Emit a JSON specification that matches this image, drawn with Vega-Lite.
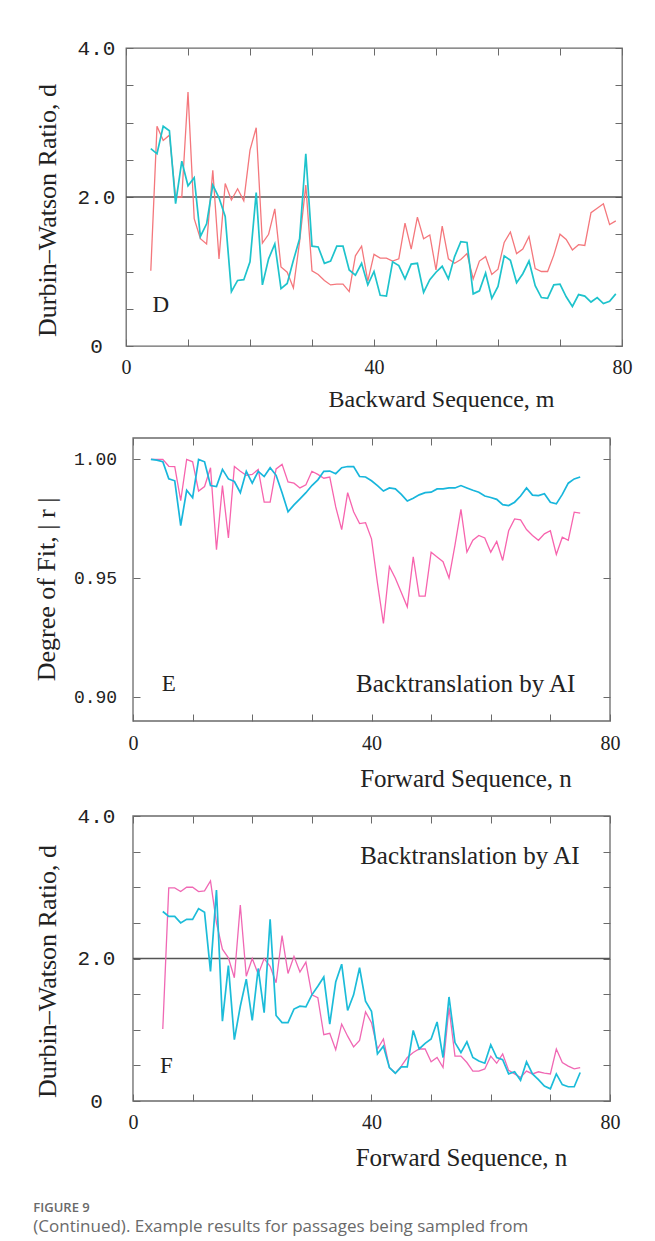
{
  "$schema": "https://vega.github.io/schema/vega-lite/v6.json",
  "padding": {"left": 33, "top": 36, "right": 5, "bottom": 5},
  "background": "white",
  "config": {
    "view": {"stroke": "#6a6a6a", "strokeWidth": 1.3},
    "axis": {
      "domain": false, "grid": false, "tickColor": "#6a6a6a", "tickWidth": 1,
      "labelFont": "Liberation Serif", "labelFontSize": 20, "labelColor": "#222",
      "titleFont": "Liberation Serif", "titleFontSize": 24, "titleFontWeight": "normal", "titleColor": "#222"
    },
    "axisY": {"labelFont": "Liberation Mono", "labelFontSize": 21, "titleFontSize": 26}
  },
  "title": {
    "text": "FIGURE 9",
    "subtitle": "(Continued). Example results for passages being sampled from",
    "orient": "bottom", "anchor": "start", "frame": "bounds",
    "font": "Open Sans", "fontSize": 13, "fontWeight": 600, "color": "#6a6a6a",
    "subtitleFont": "Open Sans", "subtitleFontSize": 17, "subtitleColor": "#6a6a6a", "subtitleFontWeight": "normal",
    "subtitlePadding": 4, "offset": 32
  },
  "datasets": {
    "D": [
      {"m":4,"s1":1.01,"s2":2.65},{"m":5,"s1":2.95,"s2":2.58},{"m":6,"s1":2.76,"s2":2.95},{"m":7,"s1":2.83,"s2":2.89},
      {"m":8,"s1":2.0,"s2":1.91},{"m":9,"s1":2.0,"s2":2.48},{"m":10,"s1":3.41,"s2":2.15},{"m":11,"s1":1.71,"s2":2.26},
      {"m":12,"s1":1.44,"s2":1.47},{"m":13,"s1":1.37,"s2":1.64},{"m":14,"s1":2.36,"s2":2.16},{"m":15,"s1":1.17,"s2":1.99},
      {"m":16,"s1":2.18,"s2":1.74},{"m":17,"s1":1.96,"s2":0.73},{"m":18,"s1":2.11,"s2":0.88},{"m":19,"s1":1.95,"s2":0.89},
      {"m":20,"s1":2.63,"s2":1.13},{"m":21,"s1":2.93,"s2":2.06},{"m":22,"s1":1.38,"s2":0.82},{"m":23,"s1":1.5,"s2":1.17},
      {"m":24,"s1":1.84,"s2":1.37},{"m":25,"s1":1.06,"s2":0.77},{"m":26,"s1":0.99,"s2":0.84},{"m":27,"s1":0.78,"s2":1.15},
      {"m":28,"s1":1.4,"s2":1.44},{"m":29,"s1":2.16,"s2":2.58},{"m":30,"s1":1.01,"s2":1.34},{"m":31,"s1":0.96,"s2":1.33},
      {"m":32,"s1":0.88,"s2":1.11},{"m":33,"s1":0.82,"s2":1.14},{"m":34,"s1":0.83,"s2":1.34},{"m":35,"s1":0.83,"s2":1.34},
      {"m":36,"s1":0.73,"s2":1.02},{"m":37,"s1":1.21,"s2":0.95},{"m":38,"s1":1.34,"s2":1.11},{"m":39,"s1":0.87,"s2":0.82},
      {"m":40,"s1":1.23,"s2":1.0},{"m":41,"s1":1.18,"s2":0.68},{"m":42,"s1":1.18,"s2":0.67},{"m":43,"s1":1.14,"s2":1.13},
      {"m":44,"s1":1.17,"s2":1.08},{"m":45,"s1":1.65,"s2":0.9},{"m":46,"s1":1.3,"s2":1.1},{"m":47,"s1":1.73,"s2":1.11},
      {"m":48,"s1":1.44,"s2":0.72},{"m":49,"s1":1.49,"s2":0.89},{"m":50,"s1":1.02,"s2":0.99},{"m":51,"s1":1.61,"s2":1.07},
      {"m":52,"s1":1.17,"s2":0.9},{"m":53,"s1":1.11,"s2":1.2},{"m":54,"s1":1.16,"s2":1.4},{"m":55,"s1":1.24,"s2":1.39},
      {"m":56,"s1":0.9,"s2":0.7},{"m":57,"s1":1.14,"s2":0.74},{"m":58,"s1":1.2,"s2":0.98},{"m":59,"s1":0.96,"s2":0.64},
      {"m":60,"s1":1.03,"s2":0.8},{"m":61,"s1":1.39,"s2":1.21},{"m":62,"s1":1.53,"s2":1.15},{"m":63,"s1":1.24,"s2":0.85},
      {"m":64,"s1":1.3,"s2":0.97},{"m":65,"s1":1.47,"s2":1.14},{"m":66,"s1":1.04,"s2":0.81},{"m":67,"s1":1.0,"s2":0.65},
      {"m":68,"s1":1.0,"s2":0.64},{"m":69,"s1":1.22,"s2":0.82},{"m":70,"s1":1.5,"s2":0.83},{"m":71,"s1":1.43,"s2":0.66},
      {"m":72,"s1":1.29,"s2":0.53},{"m":73,"s1":1.36,"s2":0.69},{"m":74,"s1":1.35,"s2":0.67},{"m":75,"s1":1.79,"s2":0.59},
      {"m":76,"s1":1.85,"s2":0.65},{"m":77,"s1":1.91,"s2":0.57},{"m":78,"s1":1.63,"s2":0.6},{"m":79,"s1":1.68,"s2":0.7}
    ],
    "E": [
      {"n":3,"s1":1.0,"s2":1.0},{"n":4,"s1":1.0,"s2":0.9997},{"n":5,"s1":1.0,"s2":0.999},{"n":6,"s1":0.9971,"s2":0.9918},
      {"n":7,"s1":0.997,"s2":0.991},{"n":8,"s1":0.9827,"s2":0.9722},{"n":9,"s1":1.0,"s2":0.987},{"n":10,"s1":0.999,"s2":0.9839},
      {"n":11,"s1":0.9867,"s2":1.0},{"n":12,"s1":0.9886,"s2":0.999},{"n":13,"s1":0.9965,"s2":0.989},{"n":14,"s1":0.962,"s2":0.9886},
      {"n":15,"s1":0.989,"s2":0.9958},{"n":16,"s1":0.967,"s2":0.9918},{"n":17,"s1":0.997,"s2":0.9907},{"n":18,"s1":0.995,"s2":0.986},
      {"n":19,"s1":0.9933,"s2":0.995},{"n":20,"s1":0.9937,"s2":0.99},{"n":21,"s1":0.9958,"s2":0.995},{"n":22,"s1":0.982,"s2":0.9928},
      {"n":23,"s1":0.982,"s2":0.9965},{"n":24,"s1":0.996,"s2":0.9933},{"n":25,"s1":0.9979,"s2":0.986},{"n":26,"s1":0.9905,"s2":0.978},
      {"n":27,"s1":0.99,"s2":0.9809},{"n":28,"s1":0.988,"s2":0.9834},{"n":29,"s1":0.9893,"s2":0.986},{"n":30,"s1":0.995,"s2":0.989},
      {"n":31,"s1":0.9937,"s2":0.9914},{"n":32,"s1":0.9921,"s2":0.995},{"n":33,"s1":0.9926,"s2":0.9951},{"n":34,"s1":0.98,"s2":0.994},
      {"n":35,"s1":0.9705,"s2":0.9965},{"n":36,"s1":0.986,"s2":0.997},{"n":37,"s1":0.978,"s2":0.997},{"n":38,"s1":0.973,"s2":0.9928},
      {"n":39,"s1":0.9734,"s2":0.9926},{"n":40,"s1":0.9666,"s2":0.991},{"n":41,"s1":0.948,"s2":0.989},{"n":42,"s1":0.931,"s2":0.9867},
      {"n":43,"s1":0.955,"s2":0.988},{"n":44,"s1":0.95,"s2":0.9876},{"n":45,"s1":0.944,"s2":0.9853},{"n":46,"s1":0.938,"s2":0.9825},
      {"n":47,"s1":0.959,"s2":0.9837},{"n":48,"s1":0.9425,"s2":0.9851},{"n":49,"s1":0.9425,"s2":0.986},{"n":50,"s1":0.961,"s2":0.9862},
      {"n":51,"s1":0.959,"s2":0.9876},{"n":52,"s1":0.957,"s2":0.9876},{"n":53,"s1":0.9501,"s2":0.988},{"n":54,"s1":0.964,"s2":0.988},
      {"n":55,"s1":0.979,"s2":0.989},{"n":56,"s1":0.961,"s2":0.988},{"n":57,"s1":0.966,"s2":0.987},{"n":58,"s1":0.968,"s2":0.9862},
      {"n":59,"s1":0.967,"s2":0.9846},{"n":60,"s1":0.961,"s2":0.984},{"n":61,"s1":0.9655,"s2":0.9832},{"n":62,"s1":0.9575,"s2":0.981},
      {"n":63,"s1":0.97,"s2":0.9806},{"n":64,"s1":0.975,"s2":0.982},{"n":65,"s1":0.9746,"s2":0.9846},{"n":66,"s1":0.9705,"s2":0.988},
      {"n":67,"s1":0.968,"s2":0.985},{"n":68,"s1":0.966,"s2":0.9848},{"n":69,"s1":0.9687,"s2":0.9856},{"n":70,"s1":0.97,"s2":0.982},
      {"n":71,"s1":0.96,"s2":0.9813},{"n":72,"s1":0.9673,"s2":0.9853},{"n":73,"s1":0.966,"s2":0.99},{"n":74,"s1":0.9778,"s2":0.9918},
      {"n":75,"s1":0.9774,"s2":0.9926}
    ],
    "F": [
      {"n":5,"s1":1.01,"s2":2.66},{"n":6,"s1":2.99,"s2":2.59},{"n":7,"s1":2.99,"s2":2.59},{"n":8,"s1":2.94,"s2":2.5},
      {"n":9,"s1":3.0,"s2":2.55},{"n":10,"s1":3.0,"s2":2.55},{"n":11,"s1":2.94,"s2":2.7},{"n":12,"s1":2.95,"s2":2.65},
      {"n":13,"s1":3.09,"s2":1.82},{"n":14,"s1":2.5,"s2":2.96},{"n":15,"s1":2.13,"s2":1.12},{"n":16,"s1":2.01,"s2":1.9},
      {"n":17,"s1":1.73,"s2":0.86},{"n":18,"s1":2.75,"s2":1.33},{"n":19,"s1":1.75,"s2":1.71},{"n":20,"s1":2.0,"s2":1.13},
      {"n":21,"s1":1.78,"s2":1.86},{"n":22,"s1":2.0,"s2":1.24},{"n":23,"s1":1.89,"s2":2.55},{"n":24,"s1":1.66,"s2":1.2},
      {"n":25,"s1":2.32,"s2":1.1},{"n":26,"s1":1.79,"s2":1.1},{"n":27,"s1":2.03,"s2":1.29},{"n":28,"s1":1.81,"s2":1.33},
      {"n":29,"s1":1.95,"s2":1.32},{"n":30,"s1":1.49,"s2":1.49},{"n":31,"s1":1.45,"s2":1.61},{"n":32,"s1":0.93,"s2":1.74},
      {"n":33,"s1":0.95,"s2":1.08},{"n":34,"s1":0.72,"s2":1.67},{"n":35,"s1":1.08,"s2":1.92},{"n":36,"s1":0.91,"s2":1.27},
      {"n":37,"s1":0.76,"s2":1.49},{"n":38,"s1":0.85,"s2":1.87},{"n":39,"s1":1.25,"s2":1.4},{"n":40,"s1":1.1,"s2":1.26},
      {"n":41,"s1":0.73,"s2":0.66},{"n":42,"s1":0.87,"s2":0.77},{"n":43,"s1":0.47,"s2":0.47},{"n":44,"s1":0.39,"s2":0.39},
      {"n":45,"s1":0.49,"s2":0.48},{"n":46,"s1":0.61,"s2":0.48},{"n":47,"s1":0.68,"s2":0.99},{"n":48,"s1":0.73,"s2":0.73},
      {"n":49,"s1":0.73,"s2":0.81},{"n":50,"s1":0.55,"s2":0.87},{"n":51,"s1":0.61,"s2":1.11},{"n":52,"s1":0.47,"s2":0.61},
      {"n":53,"s1":1.31,"s2":1.46},{"n":54,"s1":0.63,"s2":0.82},{"n":55,"s1":0.63,"s2":0.68},{"n":56,"s1":0.54,"s2":0.83},
      {"n":57,"s1":0.42,"s2":0.61},{"n":58,"s1":0.42,"s2":0.56},{"n":59,"s1":0.45,"s2":0.53},{"n":60,"s1":0.63,"s2":0.79},
      {"n":61,"s1":0.53,"s2":0.61},{"n":62,"s1":0.66,"s2":0.58},{"n":63,"s1":0.43,"s2":0.38},{"n":64,"s1":0.38,"s2":0.41},
      {"n":65,"s1":0.33,"s2":0.29},{"n":66,"s1":0.42,"s2":0.55},{"n":67,"s1":0.38,"s2":0.38},{"n":68,"s1":0.41,"s2":0.3},
      {"n":69,"s1":0.39,"s2":0.21},{"n":70,"s1":0.38,"s2":0.17},{"n":71,"s1":0.73,"s2":0.38},{"n":72,"s1":0.54,"s2":0.23},
      {"n":73,"s1":0.49,"s2":0.2},{"n":74,"s1":0.45,"s2":0.2},{"n":75,"s1":0.47,"s2":0.4}
    ]
  },
  "resolve": {"scale": {"color": "independent", "strokeWidth": "independent"}},
  "columns": 1,
  "align": "none",
  "spacing": 14,
  "concat": [
    {
      "width": 496, "height": 298,
      "data": {"name": "D"},
      "layer": [
        {
          "data": {"values": [{}]},
          "mark": {"type": "rule", "color": "#555", "strokeWidth": 1.5},
          "encoding": {"y": {"datum": 2, "type": "quantitative", "axis": null}}
        },
        {
          "transform": [{"fold": ["s1", "s2"], "as": ["series", "d"]}],
          "mark": {"type": "line"},
          "encoding": {
            "x": {"field": "m", "type": "quantitative", "scale": {"domain": [0, 80], "nice": false, "zero": false},
              "axis": {"orient": "bottom", "values": [0,10,20,30,40,50,60,70,80], "labelExpr": "datum.value % 40 === 0 ? datum.label : ''",
                "tickSize": -7, "labelPadding": 18, "labelFlush": false,
                "title": "Backward Sequence,  m", "titleX": 315, "titleY": 53, "titleBaseline": "middle", "titleAlign": "center"}},
            "y": {"field": "d", "type": "quantitative", "scale": {"domain": [0, 4], "nice": false},
              "axis": {"orient": "left", "values": [0,0.5,1,1.5,2,2.5,3,3.5,4],
                "labelExpr": "datum.value === 0 ? '0' : (datum.value % 2 === 0 ? format(datum.value, '.1f') : '')",
                "tickSize": -7, "labelAlign": "center", "labelPadding": 37,
                "title": "Durbin–Watson Ratio,  d", "titleX": -79, "titleY": 162, "titleBaseline": "middle", "titleAlign": "center", "titleAngle": -90}},
            "color": {"field": "series", "type": "nominal", "scale": {"domain": ["s1", "s2"], "range": ["#f4777c", "#1ec3cc"]}, "legend": null},
            "strokeWidth": {"field": "series", "type": "nominal", "scale": {"domain": ["s1", "s2"], "range": [1.3, 1.7]}, "legend": null}
          }
        },
        {
          "transform": [{"fold": ["s1", "s2"], "as": ["series", "d"]}],
          "mark": {"type": "line", "strokeOpacity": 0},
          "encoding": {
            "x": {"field": "m", "type": "quantitative", "axis": {"orient": "top", "values": [0,10,20,30,40,50,60,70,80], "labels": false, "tickSize": -7, "title": null}},
            "y": {"field": "d", "type": "quantitative", "axis": {"orient": "right", "values": [0,0.5,1,1.5,2,2.5,3,3.5,4], "labels": false, "tickSize": -7, "title": null}},
            "detail": {"field": "series"}
          }
        },
        {
          "data": {"values": [{}]},
          "mark": {"type": "text", "font": "Liberation Serif", "fontSize": 23, "color": "#222", "align": "center", "baseline": "middle"},
          "encoding": {
            "x": {"datum": 5.6, "type": "quantitative", "axis": null},
            "y": {"datum": 0.55, "type": "quantitative", "axis": null},
            "text": {"value": "D"}
          }
        }
      ],
      "resolve": {"axis": {"x": "independent", "y": "independent"}}
    },
    {
      "width": 484, "height": 283,
      "view": {"stroke": null},
      "data": {"name": "E"},
      "layer": [
        {
          "data": {"values": [{}]},
          "mark": {"type": "rect", "fill": "transparent", "stroke": "#6a6a6a", "strokeWidth": 1.3},
          "encoding": {
            "x": {"datum": 0, "type": "quantitative", "axis": null},
            "x2": {"datum": 80},
            "y": {"datum": 0.89, "type": "quantitative", "axis": null},
            "y2": {"datum": 1.009}
          }
        },
        {
          "transform": [{"fold": ["s1", "s2"], "as": ["series", "r"]}],
          "mark": {"type": "line"},
          "encoding": {
            "x": {"field": "n", "type": "quantitative", "scale": {"domain": [-1.176, 80], "nice": false, "zero": false},
              "axis": {"orient": "bottom", "values": [0,10,20,30,40,50,60,70,80], "labelExpr": "datum.value % 40 === 0 ? datum.label : ''",
                "tickSize": -7, "labelPadding": 19, "labelFlush": false,
                "title": "Forward Sequence,   n", "titleFontSize": 25, "titleX": 339.5, "titleY": 57, "titleBaseline": "middle", "titleAlign": "center"}},
            "y": {"field": "r", "type": "quantitative", "scale": {"domain": [0.89, 1.009], "nice": false, "zero": false},
              "axis": {"orient": "left", "offset": -7, "values": [0.9, 0.95, 1.0], "format": ".2f", "labelFontSize": 18,
                "tickSize": -7, "labelAlign": "center", "labelPadding": 45,
                "title": "Degree of Fit, | r |", "titleX": -86.5, "titleY": 151, "titleBaseline": "middle", "titleAlign": "center", "titleAngle": -90}},
            "color": {"field": "series", "type": "nominal", "scale": {"domain": ["s1", "s2"], "range": ["#f764ae", "#18b6dc"]}, "legend": null},
            "strokeWidth": {"field": "series", "type": "nominal", "scale": {"domain": ["s1", "s2"], "range": [1.3, 1.7]}, "legend": null}
          }
        },
        {
          "transform": [{"fold": ["s1", "s2"], "as": ["series", "r"]}],
          "mark": {"type": "line", "strokeOpacity": 0},
          "encoding": {
            "x": {"field": "n", "type": "quantitative", "axis": {"orient": "top", "values": [0,10,20,30,40,50,60,70,80], "labels": false, "tickSize": -7,
              "title": "·", "titleColor": "transparent", "titleFontSize": 10, "titleY": -12, "titleBaseline": "top"}},
            "y": {"field": "r", "type": "quantitative", "axis": {"orient": "right", "values": [0.9, 0.95, 1.0], "labels": false, "tickSize": -7, "title": null}},
            "detail": {"field": "series"}
          }
        },
        {
          "data": {"values": [{}]},
          "mark": {"type": "text", "font": "Liberation Serif", "fontSize": 23, "color": "#222", "align": "center", "baseline": "middle"},
          "encoding": {
            "x": {"datum": 6.0, "type": "quantitative", "axis": null},
            "y": {"datum": 0.9057, "type": "quantitative", "axis": null},
            "text": {"value": "E"}
          }
        },
        {
          "data": {"values": [{}]},
          "mark": {"type": "text", "font": "Liberation Serif", "fontSize": 25, "color": "#222", "align": "right", "baseline": "middle"},
          "encoding": {
            "x": {"datum": 74.2, "type": "quantitative", "axis": null},
            "y": {"datum": 0.9057, "type": "quantitative", "axis": null},
            "text": {"value": "Backtranslation    by    AI"}
          }
        }
      ],
      "resolve": {"axis": {"x": "independent", "y": "independent"}}
    },
    {
      "width": 484, "height": 285,
      "view": {"stroke": null},
      "data": {"name": "F"},
      "layer": [
        {
          "data": {"values": [{}]},
          "mark": {"type": "rect", "fill": "transparent", "stroke": "#6a6a6a", "strokeWidth": 1.3},
          "encoding": {
            "x": {"datum": 0, "type": "quantitative", "axis": null},
            "x2": {"datum": 80},
            "y": {"datum": 0, "type": "quantitative", "axis": null},
            "y2": {"datum": 4}
          }
        },
        {
          "data": {"values": [{}]},
          "mark": {"type": "rule", "color": "#555", "strokeWidth": 1.5},
          "encoding": {
            "x": {"datum": 0, "type": "quantitative", "axis": null},
            "x2": {"datum": 80},
            "y": {"datum": 2, "type": "quantitative", "axis": null}
          }
        },
        {
          "transform": [{"fold": ["s1", "s2"], "as": ["series", "d"]}],
          "mark": {"type": "line"},
          "encoding": {
            "x": {"field": "n", "type": "quantitative", "scale": {"domain": [-1.17, 80], "nice": false, "zero": false},
              "axis": {"orient": "bottom", "values": [0,10,20,30,40,50,60,70,80], "labelExpr": "datum.value % 40 === 0 ? datum.label : ''",
                "tickSize": -7, "labelPadding": 18, "labelFlush": false,
                "title": "Forward Sequence,   n", "titleFontSize": 25, "titleX": 335, "titleY": 56, "titleBaseline": "middle", "titleAlign": "center"}},
            "y": {"field": "d", "type": "quantitative", "scale": {"domain": [0, 4], "nice": false},
              "axis": {"orient": "left", "offset": -7, "values": [0,0.5,1,1.5,2,2.5,3,3.5,4],
                "labelExpr": "datum.value === 0 ? '0' : (datum.value % 2 === 0 ? format(datum.value, '.1f') : '')",
                "tickSize": -7, "labelAlign": "center", "labelPadding": 44,
                "title": "Durbin–Watson Ratio,  d", "titleX": -85.6, "titleY": 155, "titleBaseline": "middle", "titleAlign": "center", "titleAngle": -90}},
            "color": {"field": "series", "type": "nominal", "scale": {"domain": ["s1", "s2"], "range": ["#f068b4", "#1cbcd9"]}, "legend": null},
            "strokeWidth": {"field": "series", "type": "nominal", "scale": {"domain": ["s1", "s2"], "range": [1.3, 1.7]}, "legend": null}
          }
        },
        {
          "transform": [{"fold": ["s1", "s2"], "as": ["series", "d"]}],
          "mark": {"type": "line", "strokeOpacity": 0},
          "encoding": {
            "x": {"field": "n", "type": "quantitative", "axis": {"orient": "top", "values": [0,10,20,30,40,50,60,70,80], "labels": false, "tickSize": -7, "title": null}},
            "y": {"field": "d", "type": "quantitative", "axis": {"orient": "right", "values": [0,0.5,1,1.5,2,2.5,3,3.5,4], "labels": false, "tickSize": -7, "title": null}},
            "detail": {"field": "series"}
          }
        },
        {
          "data": {"values": [{}]},
          "mark": {"type": "text", "font": "Liberation Serif", "fontSize": 23, "color": "#222", "align": "center", "baseline": "middle"},
          "encoding": {
            "x": {"datum": 5.6, "type": "quantitative", "axis": null},
            "y": {"datum": 0.49, "type": "quantitative", "axis": null},
            "text": {"value": "F"}
          }
        },
        {
          "data": {"values": [{}]},
          "mark": {"type": "text", "font": "Liberation Serif", "fontSize": 25, "color": "#222", "align": "right", "baseline": "middle"},
          "encoding": {
            "x": {"datum": 74.9, "type": "quantitative", "axis": null},
            "y": {"datum": 3.44, "type": "quantitative", "axis": null},
            "text": {"value": "Backtranslation    by    AI"}
          }
        }
      ],
      "resolve": {"axis": {"x": "independent", "y": "independent"}}
    }
  ]
}
